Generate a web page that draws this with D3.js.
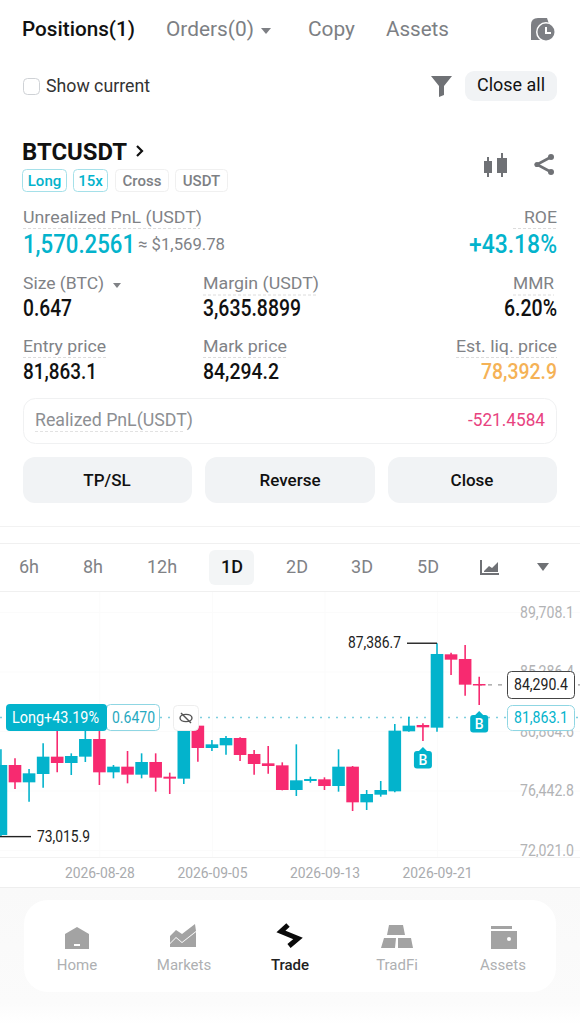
<!DOCTYPE html>
<html>
<head>
<meta charset="utf-8">
<script src="https://cdn.jsdelivr.net/npm/d3@7"></script>
<style>
html,body{margin:0;padding:0;background:#fff;}
svg{display:block;}
text{font-family:Roboto,"Noto Sans",sans-serif;}
</style>
</head>
<body>
<div id="chart"></div>
<script>
const dates = ["2026-08-21","2026-08-22","2026-08-23","2026-08-24","2026-08-25","2026-08-26","2026-08-27","2026-08-28","2026-08-29","2026-08-30","2026-08-31","2026-09-01","2026-09-02","2026-09-03","2026-09-04","2026-09-05","2026-09-06","2026-09-07","2026-09-08","2026-09-09","2026-09-10","2026-09-11","2026-09-12","2026-09-13","2026-09-14","2026-09-15","2026-09-16","2026-09-17","2026-09-18","2026-09-19","2026-09-20","2026-09-21","2026-09-22","2026-09-23","2026-09-24"];
const opens = [73136,78338,77050,77669,78957,78487,78957,80270,77793,78214,77620,78561,77471,77323,81261,79602,79800,80345,79156,78462,78313,76480,77149,77273,76777,78214,75564,76133,76381,80840,81311,81113,86563,86216,84358];
const highs = [79503,78834,78041,79948,81063,79205,80939,80939,78338,79379,79205,79205,77768,81311,81311,80196,80493,80394,79453,79750,78536,79874,77471,77422,79503,78264,76480,77149,81385,81930,81435,87386.7,86687,87256,84903];
const lows = [73015.9,76555,75613,76654,77793,77595,78561,76852,77347,76976,77347,76356,76183,76926,78586,79379,79106,78635,77620,77694,76455,76034,77025,76480,76356,74920,74994,75985,76307,80816,80122,80816,85027,83491,82797];
const closes = [78338,77050,77719,78957,78487,79007,80270,77793,78214,77620,78561,77397,77323,81063,79602,79874,80345,79081,78412,78264,76480,77199,77298,76777,78214,75564,76183,76480,80890,81261,81138,86588,86166,84308,84290];

const yTicks = [89708.1,85286.4,80864.6,76442.8,72021.0];
const xTicks = ["2026-08-28","2026-09-05","2026-09-13","2026-09-21"];
const buyDates = ["2026-09-20","2026-09-24"];
const lastPrice = 84290.4;
const entryPrice = 81863.1;
const periods = ["6h","8h","12h","1D","2D","3D","5D"];
const periodX = [29,93,162,232,297,362,428];
const navLabels = ["Home","Markets","Trade","TradFi","Assets"];
const navX = [77,184,290,397,503];

const teal = "#03b3cc", pink = "#f72a70";
const parseDate = d3.utcParse("%Y-%m-%d");
const fmt = d3.format(",.1f");

const svg = d3.select("#chart").append("svg").attr("width",580).attr("height",1024).attr("viewBox","0 0 580 1024");

function label(str,x,y,size,color,opt){
    opt = opt || {};
    const t = svg.append("text").attr("x",x).attr("y",y).attr("font-size",size).attr("fill",color)
    .attr("text-anchor",opt.anchor || "start").attr("font-weight",opt.weight || 400).text(str);
    if(opt.width) t.attr("textLength",opt.width).attr("lengthAdjust","spacingAndGlyphs");
    return t;
}
function box(x,y,w,h,r,fill,stroke){
    return svg.append("rect").attr("x",x).attr("y",y).attr("width",w).attr("height",h).attr("rx",r)
    .attr("fill",fill).attr("stroke",stroke || "none");
}
function hline(x1,x2,y,color,dash,sw){
    return svg.append("line").attr("x1",x1).attr("x2",x2).attr("y1",y).attr("y2",y).attr("stroke",color)
    .attr("stroke-width",sw || 1).attr("stroke-dasharray",dash || null);
}
function icon(d,fill){
    return svg.append("path").attr("d",d).attr("fill",fill);
}
function strokeIcon(d,color,sw){
    return svg.append("path").attr("d",d).attr("fill","none").attr("stroke",color).attr("stroke-width",sw);
}
function dot(cx,cy,r,fill){
    return svg.append("circle").attr("cx",cx).attr("cy",cy).attr("r",r).attr("fill",fill);
}

// header
label("Positions(1)",22,36,20,"#111",{weight:500,width:113});
label("Orders(0)",166,36,20,"#7d7f84",{width:88});
icon("M261 28h10l-5 6z","#7d7f84");
label("Copy",308,36,20,"#7d7f84",{width:47});
label("Assets",386,36,20,"#7d7f84",{width:63});
icon("M531 25q0-7 7-7h9l2 6v16h-18z","#7d7f84");
dot(546,32,10,"#fff");
dot(546,32,8.5,"#7d7f84");
icon("M545 27h2v5h4v2h-6z","#fff");

box(23.5,78.5,16,16,4,"#fff","#cfd2d6");
label("Show current",46,92,18,"#333",{width:104});
icon("M431 76h21l-8 10v9l-5 2v-11z","#6f7175");
box(465,71,92,30,9,"#f1f3f5");
label("Close all",511,91,18,"#111",{anchor:"middle",width:68});

// position block
label("BTCUSDT",22,160,24,"#111",{weight:700,width:105});
strokeIcon("M137 146l5 5-5 5","#111",2.2);
const tags = [["Long",22.5,44,teal,"#a5e0e9"],["15x",73.5,34,teal,"#a5e0e9"],["Cross",115.5,53,"#7d7f84","#f0f0f0"],["USDT",175.5,52,"#7d7f84","#f0f0f0"]];
tags.forEach(g => {
    box(g[1],169.5,g[2],22,4,"#fff",g[4]);
    label(g[0],g[1]+g[2]/2,186,15,g[3],{anchor:"middle",weight:500});
});
// candle and share icons
icon("M487 157h2v4h3v12h-3v4h-2v-4h-3v-12h3zM501 153h2v5h4v15h-4v4h-2v-4h-4v-15h4z","#6f7175");
strokeIcon("M551 157L537 164.500L551 172","#6f7175",2.6);
dot(551,157,3,"#6f7175");
dot(551,172,3,"#6f7175");
dot(537,164.5,2.6,"#6f7175");

label("Unrealized PnL (USDT)",23,223,17,"#808286",{width:179});
hline(23,200,228.5,"#dcdcdc","3,2");
label("ROE",557,223,17,"#808286",{anchor:"end",width:33});
hline(513,557,228.5,"#dcdcdc","3,2");
label("1,570.2561",23,253,25,teal,{weight:500,width:112});
label("≈ $1,569.78",138,250,17,"#808286",{width:87});
label("+43.18%",557,253,25,teal,{anchor:"end",weight:500,width:88});

label("Size (BTC)",23,289,17,"#808286",{width:81});
icon("M113 283h8l-4 5z","#808286");
label("Margin (USDT)",203,289,17,"#808286",{width:116});
hline(203,318,295,"#dcdcdc","3,2");
label("MMR",554,289,17,"#808286",{anchor:"end",width:41});
hline(513,554,295,"#dcdcdc","3,2");
label("0.647",23,316,23,"#111",{weight:500,width:49});
label("3,635.8899",203,316,23,"#111",{weight:500,width:98});
label("6.20%",557,316,23,"#111",{anchor:"end",weight:500,width:53});

label("Entry price",23,352,17,"#808286",{width:83});
hline(23,106,357.5,"#dcdcdc","3,2");
label("Mark price",203,352,17,"#808286",{width:84});
hline(203,287,357.5,"#dcdcdc","3,2");
label("Est. liq. price",557,352,17,"#808286",{anchor:"end",width:101});
hline(456,557,357.5,"#dcdcdc","3,2");
label("81,863.1",23,379,22,"#111",{weight:500,width:74});
label("84,294.2",203,379,22,"#111",{weight:500,width:76});
label("78,392.9",557,379,22,"#f5b256",{anchor:"end",weight:500,width:76});

box(23.5,398.5,533,45,12,"#fff","#f0f1f2");
label("Realized PnL(USDT)",35,426,18,"#8d8f93",{width:158});
hline(35,184,431.5,"#e2e2e2","3,2");
label("-521.4584",545,426,18,"#e8437f",{anchor:"end",width:77});

[[23,169,"TP/SL",107],[205,170,"Reverse",290],[388,169,"Close",472]].forEach(b => {
    box(b[0],457,b[1],46,12,"#f1f3f5");
    label(b[2],b[3],486,17,"#111",{anchor:"middle",weight:500});
});

hline(0,580,526.5,"#f2f2f2");
hline(0,580,543.5,"#f0f0f0");

// period tabs
box(209,550,45,35,6,"#f3f5f6");
periods.forEach((p,i) => {
    label(p,periodX[i],573,18,p=="1D" ? "#111" : "#808286",{anchor:"middle",weight:p=="1D" ? 500 : 400});
});
icon("M480 560h2v13h17v2h-19zM484 571l5-5 3 2 6-6v10h-14z","#6f7175");
icon("M537 563h12l-6 8z","#6f7175");
hline(0,580,591.5,"#f0f0f0");

// chart
const x = d3.scaleUtc().domain([parseDate("2026-08-28"),parseDate("2026-09-21")]).range([99.4,437]);
const y = d3.scaleLinear().domain([72021,89708.1]).range([850,612]);

const gridY = svg.append("g").call(d3.axisRight(y).tickValues(yTicks).tickSize(580).tickFormat(""));
gridY.select(".domain").remove();
gridY.selectAll("line").attr("stroke","#fbfbfb");
const gridX = svg.append("g").attr("transform","translate(0,592)")
.call(d3.axisBottom(x).tickValues(xTicks.map(parseDate)).tickSize(265).tickFormat(""));
gridX.select(".domain").remove();
gridX.selectAll("line").attr("stroke","#fbfbfb");

const yAxis = svg.append("g").attr("transform","translate(574,0)")
.call(d3.axisLeft(y).tickValues(yTicks).tickSize(0).tickFormat(d => fmt(d)));
yAxis.select(".domain").remove();
yAxis.selectAll("text").attr("x",0).attr("font-size",16).attr("fill","#b2b3b5").attr("font-family","Roboto")
.attr("textLength",54).attr("lengthAdjust","spacingAndGlyphs");

hline(0,580,857.5,"#f2f2f2");
hline(0,580,887.5,"#eeeeee");

const xAxis = svg.append("g").attr("transform","translate(0,866)")
.call(d3.axisBottom(x).tickValues(xTicks.map(parseDate)).tickSize(0).tickFormat(d3.utcFormat("%Y-%m-%d")));
xAxis.select(".domain").remove();
xAxis.selectAll("text").attr("y",0).attr("dy","0.8em").attr("font-size",15).attr("fill","#a9abae").attr("font-family","Roboto")
.attr("textLength",70).attr("lengthAdjust","spacingAndGlyphs");

hline(0,580,y(entryPrice),"#7fcfdf","2,6",1.4);
hline(478,580,y(lastPrice),"#999999","4,6",1.2);

const idx = d3.range(dates.length);
const colour = i => closes[i] >= opens[i] ? teal : pink;
svg.append("g").selectAll("line").data(idx).enter().append("line")
.attr("x1",i => x(parseDate(dates[i]))).attr("x2",i => x(parseDate(dates[i])))
.attr("y1",i => y(highs[i])).attr("y2",i => y(lows[i]))
.attr("stroke",colour).attr("stroke-width",1.6);
svg.append("g").selectAll("rect").data(idx).enter().append("rect")
.attr("x",i => x(parseDate(dates[i])) - 6.3).attr("width",12.6)
.attr("y",i => y(Math.max(opens[i],closes[i])))
.attr("height",i => Math.max(1.5,Math.abs(y(opens[i]) - y(closes[i]))))
.attr("fill",colour);

// high and low labels
const hiDate = parseDate("2026-09-21");
hline(407,x(hiDate),y(87386.7),"#222",null,1.4);
label(fmt(87386.7),401,y(87386.7)+5,16,"#222",{anchor:"end",width:53});
hline(0,31,y(73015.9),"#222",null,1.4);
label(fmt(73015.9),37,y(73015.9)+5,16,"#222",{width:53});

// position tag
box(106.5,704.5,53,26,4,"#fff","#8fd6e3");
box(6,704,101,27,4,teal);
label("Long+43.19%",12,723,16,"#fff",{width:87});
label("0.6470",112,723,16,"#27a9bf",{width:43});
box(173.5,705.5,25,25,4,"#fff","#eeeeee");
svg.append("ellipse").attr("cx",186).attr("cy",718).attr("rx",6).attr("ry",3.6).attr("fill","none").attr("stroke","#555").attr("stroke-width",1.4);
svg.append("line").attr("x1",181).attr("x2",191).attr("y1",713).attr("y2",723).attr("stroke","#555").attr("stroke-width",1.4);

// buy markers
buyDates.forEach(d => {
    const i = dates.indexOf(d);
    const cx = x(parseDate(d)), top = y(lows[i]) + 6;
    svg.append("path").attr("d",`M${cx-4},${top+4}L${cx},${top}L${cx+4},${top+4}Z`).attr("fill",teal);
    box(cx-9,top+4,18,17.5,3,teal);
    label("B",cx,top+18,14,"#fff",{anchor:"middle",weight:500});
});

// price boxes
box(507.5,671.5,67,27,4,"#fff","#444");
label(fmt(lastPrice),541,690,16,"#222",{anchor:"middle",width:54});
box(507.5,705.5,67,25,5,"#fff","#8fd6e3");
label(fmt(entryPrice),541,723,16,teal,{anchor:"middle",width:54});

// bottom nav
const grad = svg.append("defs").append("linearGradient").attr("id","navBg").attr("x1",0).attr("x2",0).attr("y1",0).attr("y2",1);
grad.append("stop").attr("offset","0%").attr("stop-color","#f9f9f9");
grad.append("stop").attr("offset","85%").attr("stop-color","#fbfbfb");
grad.append("stop").attr("offset","100%").attr("stop-color","#ffffff");
svg.append("rect").attr("x",0).attr("y",888).attr("width",580).attr("height",136).attr("fill","url(#navBg)");
box(24,900,532,92,24,"#fff");
icon("M65 934l12-7 12 7v15H65z","#a3a3a3");
box(74,944,6,2,0,"#fff");
icon("M170 936l6-6 6 4 13-10 1 7-14 11-6-5-6 6zM170 947v-3l6-6 6 5 14-11v15z","#a3a3a3");
strokeIcon("M288 925L281 931.500L298 938.500L289 946","#0a0a0a",5);
icon("M389 925h14l2 10h-18zM384 938h12l-1 10h-14zM398 938h13l2 10h-15z","#a3a3a3");
icon("M491 926h21v3h-21zM491 931h26v18h-26z","#a3a3a3");
box(507,937,4,4,2,"#fff");
navLabels.forEach((n,i) => {
    label(n,navX[i],970,15,n=="Trade" ? "#222" : "#aeb0b2",{anchor:"middle",weight:n=="Trade" ? 500 : 400});
});
</script>
</body>
</html>
